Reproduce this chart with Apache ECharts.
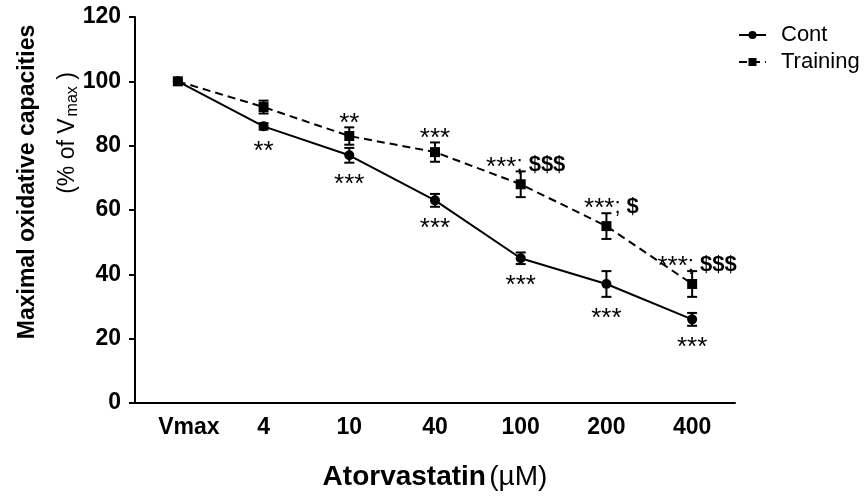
<!DOCTYPE html>
<html>
<head>
<meta charset="utf-8">
<script src="https://cdn.jsdelivr.net/npm/echarts@6/dist/echarts.min.js"></script>
<style>
html,body{margin:0;padding:0;background:#fff;}
#chart{width:866px;height:496px;}
</style>
</head>
<body>
<div id="chart"></div>
<script>
const categories = ['Vmax', '4', '10', '40', '100', '200', '400'];
const contMean = [100, 86, 77, 63, 45, 37, 26];
const contErr = [0, 1, 2.3, 2, 1.8, 4, 2];
const trainMean = [100, 92, 83, 78, 68, 55, 37];
const trainErr = [0, 2, 2.7, 3, 4, 4, 4];
const contStars = ['', '**', '***', '***', '***', '***', '***'];
const trainStars = ['', '', '**', '***', '***', '***', '***'];
const trainDollars = ['', '', '', '', '$$$', '$', '$$$'];
const yTicks = [0, 20, 40, 60, 80, 100, 120];

const FONT = '"Liberation Sans", Arial, sans-serif';

function errData(mean, err) {
  return mean.map((m, i) => [i, m, err[i]]);
}

function errorRender(params, api) {
  const i = api.value(0), m = api.value(1), e = api.value(2);
  if (!e) return null;
  const top = api.coord([i, m + e]);
  const bot = api.coord([i, m - e]);
  const cap = 5;
  const st = { stroke: '#000', lineWidth: 2 };
  return {
    type: 'group',
    children: [
      { type: 'line', shape: { x1: top[0], y1: top[1], x2: bot[0], y2: bot[1] }, style: st },
      { type: 'line', shape: { x1: top[0] - cap, y1: top[1], x2: top[0] + cap, y2: top[1] }, style: st },
      { type: 'line', shape: { x1: bot[0] - cap, y1: bot[1], x2: bot[0] + cap, y2: bot[1] }, style: st }
    ]
  };
}

function sigRender(stars, dollars, below) {
  return function (params, api) {
    const s = stars[params.dataIndex];
    if (!s) return null;
    const d = dollars ? dollars[params.dataIndex] : '';
    const i = api.value(0), m = api.value(1), e = api.value(2);
    const p = api.coord([i, below ? m - e : m + e]);
    const txt = '{a|' + s + '}' + (d ? '{c|; }{d|' + d + '}' : '');
    return {
      type: 'text',
      x: p[0] + (d ? 5 : 0),
      y: below ? p[1] + 22 : p[1] - 4,
      style: {
        text: txt,
        fill: '#000',
        align: 'center',
        verticalAlign: 'middle',
        rich: {
          a: { font: '26px ' + FONT, fill: '#000', lineHeight: 26 },
          c: { font: '22px ' + FONT, fill: '#000', lineHeight: 26, padding: [0, 0, 4, 0] },
          d: { font: 'bold 22px ' + FONT, fill: '#000', lineHeight: 26, padding: [0, 0, 4, 0] }
        }
      }
    };
  };
}

const chart = echarts.init(document.getElementById('chart'), null, { renderer: 'canvas' });
chart.setOption({
  animation: false,
  backgroundColor: '#fff',
  grid: { left: 135, top: 17, width: 600, height: 399, containLabel: false },
  legend: {
    orient: 'vertical',
    left: 738,
    top: 24,
    padding: 0,
    itemWidth: 27,
    itemHeight: 10,
    itemGap: 5,
    data: ['Cont', 'Training'],
    textStyle: { fontFamily: FONT, fontSize: 22, color: '#000', padding: [0, 0, 0, 10] }
  },
  xAxis: {
    type: 'category',
    data: categories,
    boundaryGap: true,
    axisLine: { lineStyle: { color: '#000', width: 2 } },
    axisTick: { alignWithLabel: true, interval: 0, length: 6, lineStyle: { color: '#000', width: 2 } },
    axisLabel: {
      interval: 0,
      color: '#000', fontFamily: FONT, fontWeight: 'bold', fontSize: 23, margin: 13,
      formatter: (v, idx) => (idx === 0 ? '{v|' + v + '}' : v),
      rich: { v: { fontFamily: FONT, fontWeight: 'bold', fontSize: 23, color: '#000', padding: [0, 0, 0, 22] } }
    },
    name: '{b|Atorvastatin} {n|(µM)}',
    nameLocation: 'middle',
    nameGap: 60,
    nameTextStyle: {
      rich: {
        b: { fontFamily: FONT, fontWeight: 'bold', fontSize: 28, color: '#000' },
        n: { fontFamily: FONT, fontSize: 28, color: '#000' }
      }
    }
  },
  yAxis: {
    type: 'value',
    min: 0,
    max: 120,
    interval: 20,
    splitLine: { show: false },
    axisLine: { show: true, lineStyle: { color: '#000', width: 2 } },
    axisTick: { show: true, length: 6, lineStyle: { color: '#000', width: 2 } },
    axisLabel: {
      color: '#000', fontFamily: FONT, fontWeight: 'bold', fontSize: 23, margin: 14,
      formatter: v => (yTicks.indexOf(v) >= 0 ? String(v) : '')
    }
  },
  graphic: [
    {
      type: 'text',
      x: 28, y: 182, rotation: Math.PI / 2,
      style: {
        text: 'Maximal oxidative capacities',
        font: 'bold 23px ' + FONT,
        fill: '#000', align: 'center', verticalAlign: 'middle'
      }
    },
    {
      type: 'text',
      x: 68, y: 133, rotation: Math.PI / 2,
      style: {
        text: '(% of V{sub|max} )',
        font: '23px ' + FONT,
        fill: '#000', align: 'center', verticalAlign: 'middle',
        rich: {
          sub: { font: '16px ' + FONT, fill: '#000', padding: [10, 0, 0, 2] }
        }
      }
    }
  ],
  series: [
    {
      type: 'custom', renderItem: errorRender,
      data: errData(contMean, contErr), z: 1, silent: true
    },
    {
      type: 'custom', renderItem: errorRender,
      data: errData(trainMean, trainErr), z: 1, silent: true
    },
    {
      name: 'Cont', type: 'line', data: contMean,
      symbol: 'circle', symbolSize: 10,
      itemStyle: { color: '#000' },
      lineStyle: { color: '#000', width: 2, type: 'solid' }, z: 3
    },
    {
      name: 'Training', type: 'line', data: trainMean,
      symbol: 'rect', symbolSize: 10,
      itemStyle: { color: '#000' },
      lineStyle: { color: '#000', width: 2, type: [8, 5] }, z: 4
    },
    {
      type: 'custom', renderItem: sigRender(contStars, null, true),
      data: errData(contMean, contErr), z: 5, silent: true
    },
    {
      type: 'custom', renderItem: sigRender(trainStars, trainDollars, false),
      data: errData(trainMean, trainErr), z: 5, silent: true
    }
  ]
});
</script>
</body>
</html>
